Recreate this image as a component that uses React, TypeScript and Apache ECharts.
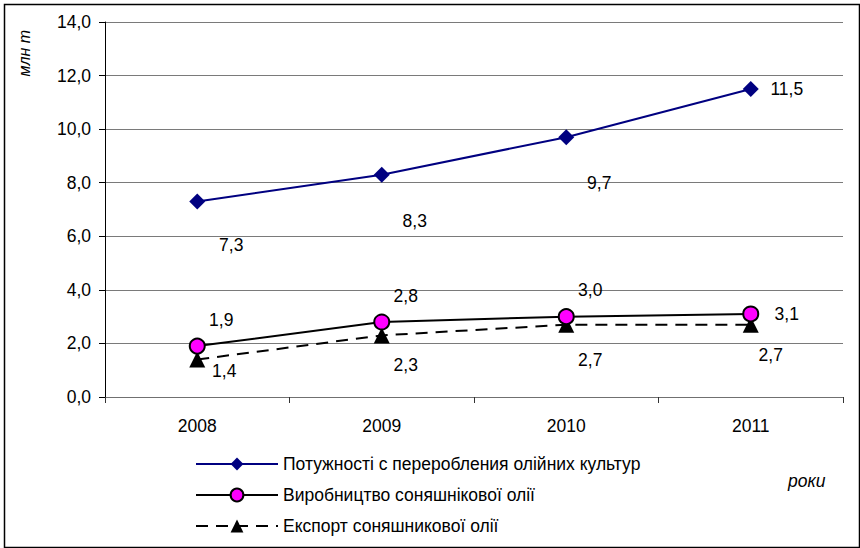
import React, { useEffect, useRef } from "react";
import * as echarts from "echarts";

const years = ["2008", "2009", "2010", "2011"];
const capacity = [7.3, 8.3, 9.7, 11.5];
const production = [1.9, 2.8, 3.0, 3.1];
const exportVals = [1.4, 2.3, 2.7, 2.7];
const seriesNames = [
  "Потужності с переробления олійних культур",
  "Виробництво соняшнікової олії",
  "Експорт соняшникової олії",
];
const capOffsets = [[34, 44], [33, 46], [33, 46], [36, 0]];
const prodOffsets = [[24, -26], [24, -26], [24, -27], [36, 0]];
const expOffsets = [[27, 11], [24, 30], [24, 35], [20, 30]];

const FONT = "Liberation Sans, Arial, sans-serif";
const FS = 17.5;
const fmt = (v: number) => v.toFixed(1).replace(".", ",");

function withLabels(vals: number[], offs: number[][]) {
  return vals.map((v, i) => ({
    value: v,
    label: {
      show: true,
      position: "inside",
      offset: offs[i],
      formatter: (p: any) => fmt(p.value),
      color: "#000",
      fontSize: FS,
      fontFamily: FONT,
    },
  }));
}

export default function App() {
  const ref = useRef<HTMLDivElement>(null);
  useEffect(() => {
    const chart = echarts.init(ref.current!, null, { renderer: "svg" });
    chart.setOption({
      animation: false,
      backgroundColor: "#fff",
      textStyle: { fontFamily: FONT },
      grid: { left: 105, right: 17, top: 22, bottom: 151, containLabel: false },
      xAxis: {
        type: "category",
        data: years,
        boundaryGap: true,
        axisLine: { lineStyle: { color: "#707070", width: 1 } },
        axisTick: { show: true, length: 6, lineStyle: { color: "#333" } },
        axisLabel: { fontSize: FS, color: "#000", margin: 20, fontFamily: FONT },
      },
      yAxis: {
        type: "value",
        min: 0,
        max: 14,
        interval: 2,
        axisLine: { show: true, lineStyle: { color: "#000", width: 1 } },
        axisTick: { show: true, length: 6, lineStyle: { color: "#000" } },
        axisLabel: { fontSize: FS, color: "#000", margin: 14, formatter: (v: number) => fmt(v), fontFamily: FONT },
        splitLine: { show: true, lineStyle: { color: "#7a7a7a", width: 1 } },
      },
      legend: {
        orient: "vertical",
        left: 190,
        top: 450,
        itemWidth: 82,
        itemHeight: 16,
        itemGap: 13,
        textStyle: { fontSize: FS, color: "#000", fontFamily: FONT },
        data: seriesNames,
      },
      series: [
        {
          name: seriesNames[0],
          type: "line",
          data: withLabels(capacity, capOffsets),
          symbol: "diamond",
          symbolSize: 16,
          itemStyle: { color: "#000080" },
          lineStyle: { color: "#000080", width: 2 },
        },
        {
          name: seriesNames[1],
          type: "line",
          data: withLabels(production, prodOffsets),
          symbol: "circle",
          symbolSize: 15,
          itemStyle: { color: "#ff00ff", borderColor: "#000", borderWidth: 2 },
          lineStyle: { color: "#000", width: 2 },
          z: 3,
        },
        {
          name: seriesNames[2],
          type: "line",
          data: withLabels(exportVals, expOffsets),
          symbol: "triangle",
          symbolSize: 16,
          itemStyle: { color: "#000" },
          lineStyle: { color: "#000", width: 2, type: [12, 8] },
          z: 2,
        },
      ],
      graphic: [
        {
          type: "rect",
          left: 2,
          top: 2,
          shape: { width: 855, height: 543 },
          style: { fill: "none", stroke: "#000", lineWidth: 1.5 },
          silent: true,
        },
        {
          type: "text",
          left: 16,
          top: 30,
          rotation: Math.PI / 2,
          style: { text: "млн т", fontSize: 16, fontStyle: "italic", fill: "#000", fontFamily: FONT },
        },
        {
          type: "text",
          left: 788,
          top: 472,
          style: { text: "роки", fontSize: FS, fontStyle: "italic", fill: "#000", fontFamily: FONT },
        },
      ],
    });
    return () => chart.dispose();
  }, []);
  return (
    <div
      ref={ref}
      style={{ width: 860, height: 548, position: "absolute", left: 0, top: 0 }}
    />
  );
}
